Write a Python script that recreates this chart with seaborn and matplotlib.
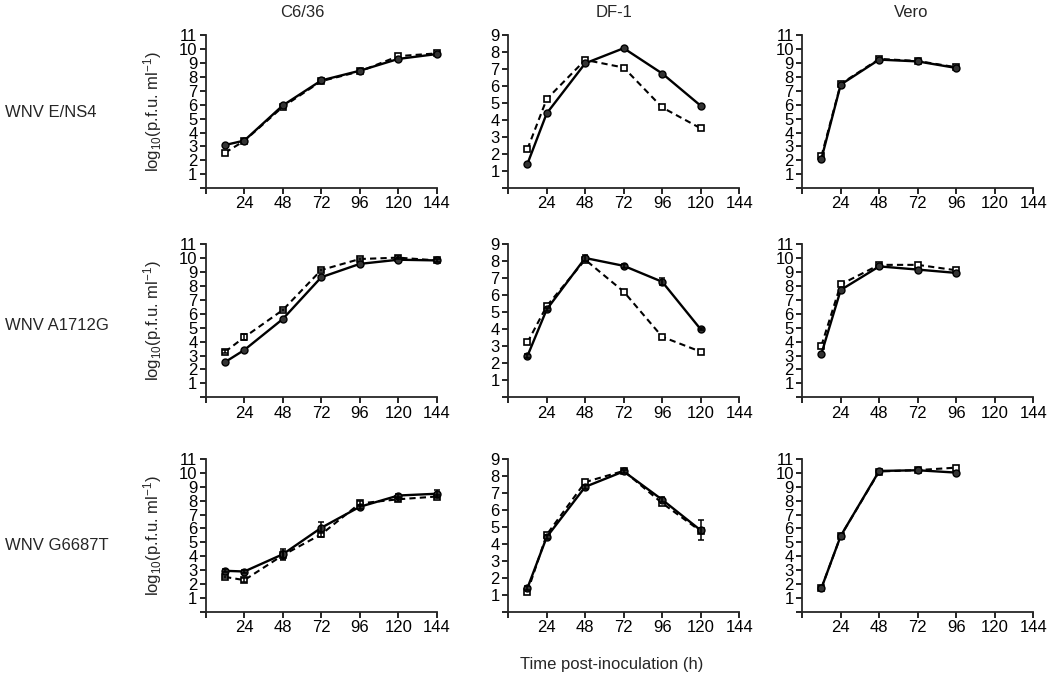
import matplotlib
matplotlib.use("Agg")
import matplotlib.pyplot as plt
import seaborn as sns
import pandas as pd

# ---- data ----
cells = ["C6/36", "DF-1", "Vero"]
viruses = ["WNV E/NS4", "WNV A1712G", "WNV G6687T"]
t_long = [12, 24, 48, 72, 96, 120, 144]
t_df1 = [12, 24, 48, 72, 96, 120]
t_vero = [12, 24, 48, 72, 96]
x_ticks = [0, 24, 48, 72, 96, 120, 144]

# WNV E/NS4
ens4_c636_solid = [3.1, 3.42, 5.95, 7.75, 8.45, 9.3, 9.65]
ens4_c636_dash = [2.55, 3.4, 5.85, 7.7, 8.4, 9.5, 9.7]
ens4_df1_solid = [1.43, 4.4, 7.35, 8.24, 6.75, 4.85]
ens4_df1_dash = [2.3, 5.24, 7.55, 7.1, 4.75, 3.52]
ens4_vero_solid = [2.12, 7.45, 9.25, 9.12, 8.65]
ens4_vero_dash = [2.3, 7.5, 9.3, 9.15, 8.7]

# WNV A1712G
a1712_c636_solid = [2.53, 3.4, 5.63, 8.64, 9.6, 9.9, 9.85]
a1712_c636_dash = [3.27, 4.32, 6.28, 9.16, 9.95, 10.05, 9.85]
a1712_df1_solid = [2.43, 5.17, 8.2, 7.74, 6.8, 4.0]
a1712_df1_dash = [3.23, 5.37, 8.1, 6.22, 3.56, 2.68]
a1712_vero_solid = [3.14, 7.72, 9.42, 9.19, 8.95]
a1712_vero_dash = [3.72, 8.12, 9.53, 9.53, 9.14]

# WNV G6687T
g6687_c636_solid = [2.95, 2.9, 4.14, 6.05, 7.56, 8.37, 8.5]
g6687_c636_dash = [2.51, 2.28, 4.07, 5.58, 7.8, 8.1, 8.3]
g6687_df1_solid = [1.4, 4.4, 7.36, 8.27, 6.6, 4.8]
g6687_df1_dash = [1.18, 4.54, 7.64, 8.3, 6.4, 4.75]
g6687_vero_solid = [1.71, 5.46, 10.14, 10.19, 10.02]
g6687_vero_dash = [1.71, 5.46, 10.1, 10.2, 10.38]

# error bars (SD) for the visibly larger ones
g6687_c636_solid_err = [0.1, 0.1, 0.4, 0.4, 0.15, 0.1, 0.25]
g6687_c636_dash_err = [0.1, 0.15, 0.3, 0.2, 0.15, 0.1, 0.1]
g6687_df1_solid_err = [0.1, 0.1, 0.1, 0.1, 0.15, 0.6]
a1712_c636_dash_err = [0.1, 0.2, 0.1, 0.1, 0.1, 0.1, 0.1]
a1712_df1_solid_err = [0.1, 0.1, 0.15, 0.1, 0.2, 0.05]

panels = [
    [(t_long, ens4_c636_solid, ens4_c636_dash, None, None, 11),
     (t_df1, ens4_df1_solid, ens4_df1_dash, None, None, 9),
     (t_vero, ens4_vero_solid, ens4_vero_dash, None, None, 11)],
    [(t_long, a1712_c636_solid, a1712_c636_dash, None, a1712_c636_dash_err, 11),
     (t_df1, a1712_df1_solid, a1712_df1_dash, a1712_df1_solid_err, None, 9),
     (t_vero, a1712_vero_solid, a1712_vero_dash, None, None, 11)],
    [(t_long, g6687_c636_solid, g6687_c636_dash, g6687_c636_solid_err, g6687_c636_dash_err, 11),
     (t_df1, g6687_df1_solid, g6687_df1_dash, g6687_df1_solid_err, None, 9),
     (t_vero, g6687_vero_solid, g6687_vero_dash, None, None, 11)],
]

# ---- style ----
sns.set_style("ticks")
plt.rcParams["font.family"] = ["Liberation Sans", "DejaVu Sans"]
plt.rcParams["mathtext.default"] = "regular"
plt.rcParams["axes.linewidth"] = 1.3

fig = plt.figure(figsize=(10.5, 6.79), dpi=100)

lefts = [0.196, 0.484, 0.764]
bottoms = [0.723, 0.415, 0.099]
width, height = 0.220, 0.225

for r in range(3):
    for c in range(3):
        t, ys, yd, es, ed, ymax = panels[r][c]
        ax = fig.add_axes([lefts[c], bottoms[r], width, height])
        df_s = pd.DataFrame({"t": t, "v": ys})
        df_d = pd.DataFrame({"t": t, "v": yd})
        sns.lineplot(data=df_d, x="t", y="v", ax=ax, color="black",
                     linestyle=(0, (3, 2)), linewidth=1.5, marker="s",
                     markersize=5, markerfacecolor="white",
                     markeredgecolor="black", markeredgewidth=1.2,
                     clip_on=False, zorder=3)
        sns.lineplot(data=df_s, x="t", y="v", ax=ax, color="black",
                     linestyle="-", linewidth=1.7, marker="o",
                     markersize=5, markerfacecolor="#333333",
                     markeredgecolor="black", markeredgewidth=1.0,
                     clip_on=False, zorder=4)
        if es is not None:
            ax.errorbar(t, ys, yerr=es, fmt="none", ecolor="black",
                        elinewidth=1.1, capsize=2.5, capthick=1.1,
                        clip_on=False, zorder=5)
        if ed is not None:
            ax.errorbar(t, yd, yerr=ed, fmt="none", ecolor="black",
                        elinewidth=1.1, capsize=2.5, capthick=1.1,
                        clip_on=False, zorder=5)
        ax.set_xlim(0, 144)
        ax.set_ylim(0, ymax)
        ax.set_xticks(x_ticks)
        ax.set_xticklabels([""] + [str(v) for v in x_ticks[1:]])
        yt = list(range(0, ymax + 1))
        ax.set_yticks(yt)
        ax.set_yticklabels([""] + [str(v) for v in yt[1:]])
        ax.tick_params(axis="both", labelsize=12, length=4, width=1.2,
                       pad=2, direction="out", colors="black")
        ax.set_xlabel("")
        if c == 0:
            ax.set_ylabel("log$_{10}$(p.f.u. ml$^{-1}$)", fontsize=12)
            ax.yaxis.set_label_coords(-0.18, 0.5)
        else:
            ax.set_ylabel("")
        sns.despine(ax=ax)

# column titles
for name, x in zip(cells, [0.288, 0.585, 0.868]):
    fig.text(x, 0.982, name, ha="center", va="center", fontsize=12)

# row labels
for name, y in zip(viruses, [0.835, 0.521, 0.197]):
    fig.text(0.005, y, name, ha="left", va="center", fontsize=12)

fig.text(0.583, 0.021, "Time post-inoculation (h)", ha="center",
         va="center", fontsize=12)

fig.savefig("out.png", dpi=100)
